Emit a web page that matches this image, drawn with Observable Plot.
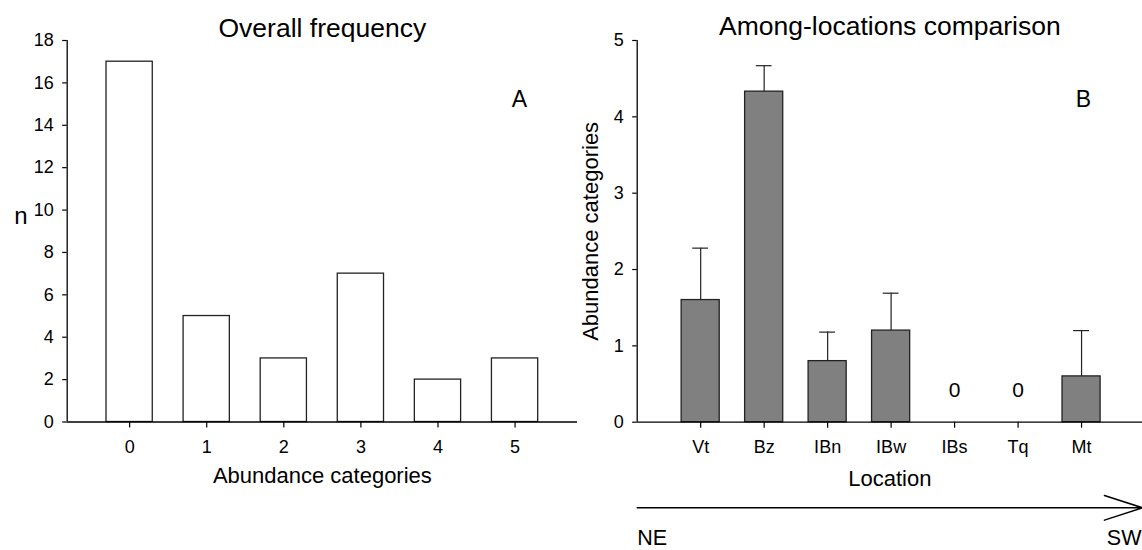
<!DOCTYPE html>
<html><head><meta charset="utf-8">
<script src="https://cdn.jsdelivr.net/npm/d3@7"></script>
<script src="https://cdn.jsdelivr.net/npm/@observablehq/plot@0.6"></script>
<style>
body{margin:0;background:#fff;}
#wrap{display:flex;width:1142px;height:550px;overflow:hidden;}
#wrap svg{display:block;overflow:visible;}
</style></head><body><div id="wrap"></div>
<script>
// Panel A: overall frequency
const categories = [0, 1, 2, 3, 4, 5];
const counts = [17, 5, 3, 7, 2, 3];
const yTicksA = [0, 2, 4, 6, 8, 10, 12, 14, 16, 18];
// Panel B: among-locations comparison
const locations = ["Vt", "Bz", "IBn", "IBw", "IBs", "Tq", "Mt"];
const means = [1.6, 4.33, 0.8, 1.2, 0, 0, 0.6];
const upperErr = [2.28, 4.67, 1.18, 1.69, 0, 0, 1.2];
const yTicksB = [0, 1, 2, 3, 4, 5];
const gradient = [{from: "NE", to: "SW"}];

const freq = categories.map((c, i) => ({cat: c, n: counts[i]}));
const loc = locations.map((l, i) => ({pos: i + 1, name: l, mean: means[i], up: upperErr[i]}));

const font = "Liberation Sans, Arial, Helvetica, sans-serif";
const xDomA = [-0.81, 5.81];
const xDomB = [0, 7.96];

const plotA = Plot.plot({
  width: 580, height: 550,
  marginLeft: 66.7, marginRight: 3, marginTop: 40, marginBottom: 128.5,
  style: {fontFamily: font, fontSize: "18px", color: "#000", background: "#fff", overflow: "visible"},
  x: {type: "linear", domain: xDomA},
  y: {domain: [0, 18]},
  marks: [
    Plot.rectY(freq, {x1: d => d.cat - 0.3, x2: d => d.cat + 0.3, y1: 0, y2: "n", fill: "#fff", stroke: "#222", strokeWidth: 1.3}),
    Plot.ruleX([xDomA[0]], {y1: 0, y2: 18, stroke: "#000", strokeWidth: 1.3}),
    Plot.ruleY([0], {stroke: "#000", strokeWidth: 1.3}),
    Plot.axisY({ticks: yTicksA, tickSize: 4.5, tickPadding: 9, fontSize: 18, label: null, tickFormat: d => String(d), strokeWidth: 1.2}),
    Plot.axisX({ticks: categories, tickSize: 6, tickPadding: 12, fontSize: 18, label: null, tickFormat: d => String(d), strokeWidth: 1.2}),
    Plot.text(["Overall frequency"], {text: d => d, frameAnchor: "top", dy: -4, lineAnchor: "bottom", fontSize: 26.5}),
    Plot.text(["Abundance categories"], {text: d => d, frameAnchor: "bottom", dy: 60.8, lineAnchor: "bottom", fontSize: 22}),
    Plot.text(["n"], {text: d => d, frameAnchor: "left", dx: -46.2, dy: -7.4, textAnchor: "middle", lineAnchor: "bottom", fontSize: 24}),
    Plot.text(["A"], {text: d => d, frameAnchor: "top-right", dx: -58, dy: 66.7, textAnchor: "middle", lineAnchor: "bottom", fontSize: 23})
  ]
});

const plotB = Plot.plot({
  width: 562, height: 550,
  marginLeft: 56.7, marginRight: 0, marginTop: 40, marginBottom: 128.3,
  style: {fontFamily: font, fontSize: "18px", color: "#000", background: "#fff", overflow: "visible"},
  x: {type: "linear", domain: xDomB},
  y: {domain: [0, 5]},
  marks: [
    Plot.rectY(loc.filter(d => d.mean > 0), {x1: d => d.pos - 0.3, x2: d => d.pos + 0.3, y1: 0, y2: "mean", fill: "#808080", stroke: "#222", strokeWidth: 1.3}),
    Plot.ruleX(loc.filter(d => d.up > d.mean), {x: "pos", y1: "mean", y2: "up", stroke: "#222", strokeWidth: 1.2}),
    Plot.ruleY(loc.filter(d => d.up > d.mean), {y: "up", x1: d => d.pos - 0.125, x2: d => d.pos + 0.125, stroke: "#222", strokeWidth: 1.2}),
    Plot.text(loc.filter(d => d.mean === 0), {x: "pos", y: "mean", text: d => String(d.mean), dy: -25, lineAnchor: "bottom", fontSize: 21}),
    Plot.ruleX([xDomB[0]], {y1: 0, y2: 5, stroke: "#000", strokeWidth: 1.3}),
    Plot.ruleY([0], {stroke: "#000", strokeWidth: 1.3}),
    Plot.axisY({ticks: yTicksB, tickSize: 4.5, tickPadding: 9, fontSize: 18, label: null, tickFormat: d => String(d), strokeWidth: 1.2}),
    Plot.axisX({ticks: loc.map(d => d.pos), tickSize: 6, tickPadding: 12, fontSize: 18, label: null, tickFormat: p => locations[p - 1], strokeWidth: 1.2}),
    Plot.text(["Among-locations comparison"], {text: d => d, frameAnchor: "top", dy: -6, lineAnchor: "bottom", fontSize: 26.5}),
    Plot.text(["Location"], {text: d => d, frameAnchor: "bottom", dy: 63.3, lineAnchor: "bottom", fontSize: 22}),
    Plot.text(["Abundance categories"], {text: d => d, frameAnchor: "left", dx: -46.7, rotate: -90, textAnchor: "middle", lineAnchor: "middle", fontSize: 22}),
    Plot.text(["B"], {text: d => d, frameAnchor: "top-right", dx: -59, dy: 66.7, textAnchor: "middle", lineAnchor: "bottom", fontSize: 23}),
    Plot.arrow(gradient, {x1: xDomB[0], x2: xDomB[1], y1: 0, y2: 0, dy: 85.6, headLength: 40, headAngle: 36, stroke: "#000", strokeWidth: 1.5}),
    Plot.text(gradient, {text: "from", frameAnchor: "bottom-left", dy: 122.5, textAnchor: "start", lineAnchor: "bottom", fontSize: 21.5}),
    Plot.text(gradient, {text: "to", frameAnchor: "bottom-right", dx: -1, dy: 122.5, textAnchor: "end", lineAnchor: "bottom", fontSize: 21.5})
  ]
});

document.getElementById("wrap").append(plotA, plotB);
</script></body></html>
